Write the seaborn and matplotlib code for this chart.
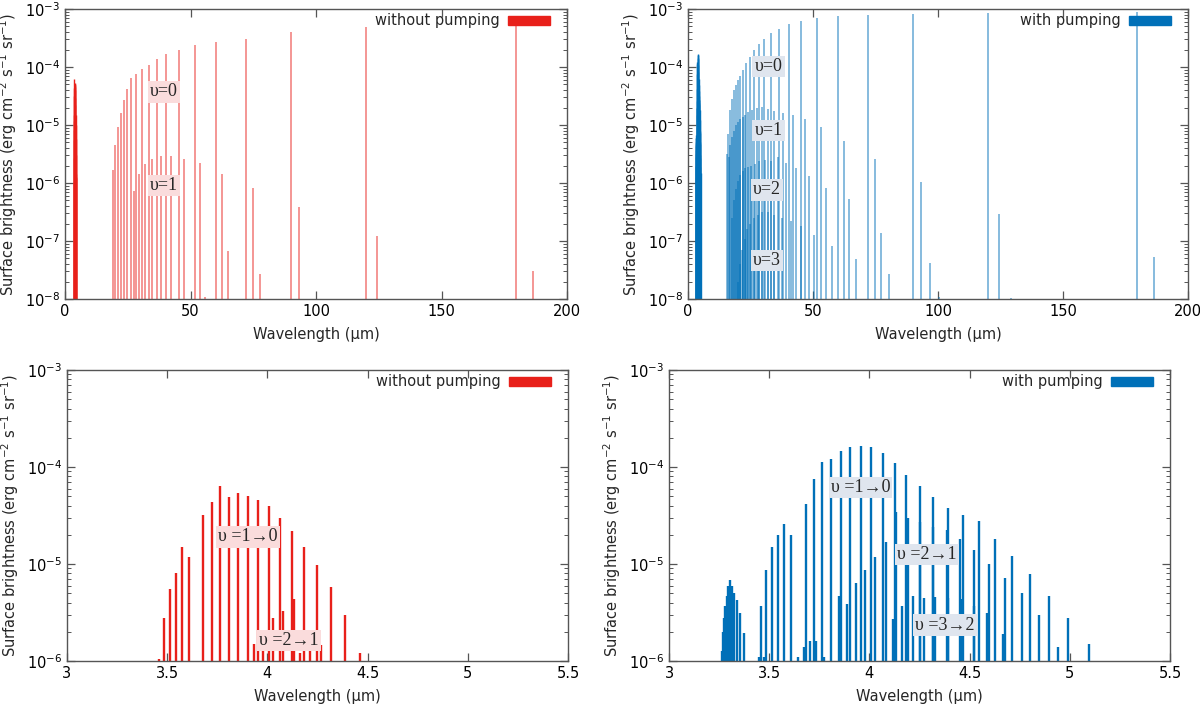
import numpy as np
import pandas as pd
import matplotlib
matplotlib.use('Agg')
import matplotlib.pyplot as plt
import seaborn as sns
from matplotlib.patches import Patch
from matplotlib.ticker import LogLocator, FuncFormatter, NullFormatter

# pure rotational lines, without pumping (um, erg cm-2 s-1 sr-1)
tl_v0_w = [19.3, 20.1, 21.0, 22.1, 23.3, 24.7, 26.4, 28.4, 30.6, 33.3, 36.5, 40.4,
           45.3, 51.7, 60.2, 72.1, 89.9, 119.9, 179.7]
tl_v0_h = [1.7e-6, 4.6e-6, 9.1e-6, 1.6e-5, 2.7e-5, 4.2e-5, 6.5e-5, 7.6e-5, 9.1e-5,
           1.1e-4, 1.35e-4, 1.7e-4, 2.0e-4, 2.4e-4, 2.75e-4, 3.0e-4, 4.0e-4, 4.8e-4, 6.3e-4]
tl_v1_w = [27.5, 29.6, 32.0, 34.6, 38.1, 42.2, 47.2, 53.7, 62.7, 74.9, 93.3, 124.3, 186.5]
tl_v1_h = [7.2e-7, 1.45e-6, 2.1e-6, 2.6e-6, 2.9e-6, 2.9e-6, 2.6e-6, 2.2e-6, 1.45e-6,
           8.1e-7, 3.9e-7, 1.2e-7, 3.0e-8]
tl_v2_w = [55.7, 64.8, 77.7]
tl_v2_h = [1.1e-8, 6.8e-8, 2.7e-8]

# pure rotational lines, with pumping
tr_v0_w = [15.6, 16.1, 16.9, 17.6, 18.4, 19.3, 20.1, 21.0, 22.1, 23.3, 24.7, 26.4, 28.4,
           30.6, 33.3, 36.5, 40.4, 45.3, 51.7, 60.2, 72.1, 89.9, 119.9, 179.7]
tr_v0_h = [3.2e-6, 7.1e-6, 1.8e-5, 2.8e-5, 4.0e-5, 4.8e-5, 5.9e-5, 6.9e-5, 8.7e-5, 1.17e-4,
           1.5e-4, 2.0e-4, 2.5e-4, 3.0e-4, 3.8e-4, 4.6e-4, 5.5e-4, 6.3e-4, 7.0e-4, 7.6e-4,
           7.9e-4, 8.1e-4, 8.5e-4, 8.9e-4]
tr_v1_w = [16.3, 17.0, 17.6, 18.4, 19.2, 20.1, 21.0, 21.9, 23.0, 24.2, 25.7, 27.5, 29.6,
           32.0, 34.6, 38.0, 42.1, 47.0, 53.4, 62.3, 74.7, 93.2, 124.3, 186.6]
tr_v1_h = [2.8e-6, 4.5e-6, 6.3e-6, 7.9e-6, 1.0e-5, 1.12e-5, 1.26e-5, 1.4e-5, 1.5e-5,
           1.65e-5, 1.8e-5, 2.0e-5, 2.05e-5, 1.9e-5, 1.75e-5, 1.6e-5, 1.5e-5, 1.25e-5,
           9.1e-6, 5.2e-6, 2.6e-6, 1.05e-6, 2.9e-7, 5.4e-8]
tr_v2_w = [17.6, 18.3, 19.1, 20.0, 20.9, 21.9, 22.8, 23.9, 25.2, 26.7, 28.6, 30.8, 33.3,
           36.0, 39.2, 43.4, 48.6, 55.4, 64.6, 77.4, 96.8, 129.1]
tr_v2_h = [2.5e-7, 5.0e-7, 7.9e-7, 1.1e-6, 1.4e-6, 1.6e-6, 1.8e-6, 1.9e-6, 2.0e-6, 2.1e-6,
           2.4e-6, 2.5e-6, 2.4e-6, 2.8e-6, 2.2e-6, 1.8e-6, 1.3e-6, 8.1e-7, 5.2e-7, 1.35e-7,
           4.1e-8, 1.05e-8]
tr_v3_w = [19.9, 20.8, 21.7, 22.7, 23.8, 25.0, 26.3, 27.9, 29.7, 31.9, 34.5, 37.5, 41.4,
           45.2, 50.3, 57.7, 67.1, 80.5, 100.3]
tr_v3_h = [2.0e-8, 4.0e-8, 7.1e-8, 1.1e-7, 1.6e-7, 2.0e-7, 2.5e-7, 2.8e-7, 3.2e-7, 3.2e-7,
           2.8e-7, 2.5e-7, 2.2e-7, 1.8e-7, 1.26e-7, 8.1e-8, 4.8e-8, 2.75e-8, 1.1e-8]

# ro-vibrational band, without pumping
bl_10_w = [3.461, 3.486, 3.514, 3.543, 3.574, 3.608, 3.681, 3.722, 3.764, 3.808, 3.854,
           3.902, 3.952, 4.008, 4.063, 4.125, 4.184, 4.250, 4.317, 4.388, 4.464]
bl_10_h = [1.05e-6, 2.75e-6, 5.5e-6, 8.1e-6, 1.48e-5, 1.17e-5, 3.2e-5, 4.4e-5, 6.3e-5,
           4.9e-5, 5.4e-5, 5.0e-5, 4.6e-5, 4.0e-5, 2.95e-5, 2.2e-5, 1.5e-5, 9.8e-6,
           5.75e-6, 3.0e-6, 1.2e-6]
bl_21_w = [3.933, 3.979, 4.027, 4.079, 4.132, 4.165, 4.213, 4.270]
bl_21_h = [1.5e-6, 2.1e-6, 2.75e-6, 3.3e-6, 4.4e-6, 1.2e-6, 1.26e-6, 1.45e-6]

# ro-vibrational band, with pumping
br_10_w = [3.461, 3.486, 3.514, 3.545, 3.576, 3.610, 3.683, 3.722, 3.764, 3.808, 3.856,
           3.904, 3.956, 4.010, 4.067, 4.127, 4.184, 4.250, 4.319, 4.390, 4.467, 4.546,
           4.627, 4.712, 4.800, 4.896, 4.992, 5.098]
br_10_h = [3.7e-6, 8.7e-6, 1.48e-5, 2.0e-5, 2.6e-5, 2.0e-5, 4.2e-5, 7.6e-5, 1.12e-4,
           1.2e-4, 1.45e-4, 1.6e-4, 1.65e-4, 1.6e-4, 1.4e-4, 1.1e-4, 8.3e-5, 6.3e-5,
           4.9e-5, 3.8e-5, 3.2e-5, 2.75e-5, 1.8e-5, 1.2e-5, 7.8e-6, 4.7e-6, 2.75e-6, 1.48e-6]
br_21_w = [3.451, 3.474, 3.643, 3.672, 3.703, 3.735, 3.772, 3.850, 3.887, 3.933, 3.977,
           4.029, 4.081, 4.134, 4.192, 4.253, 4.319, 4.388, 4.453, 4.524, 4.595, 4.676,
           4.760, 4.845, 4.939]
br_21_h = [1.1e-6, 1.1e-6, 1.1e-6, 1.4e-6, 1.6e-6, 1.6e-6, 1.1e-6, 4.7e-6, 3.9e-6, 6.3e-6,
           8.7e-6, 1.17e-5, 1.7e-5, 3.4e-5, 3.0e-5, 2.7e-5, 2.4e-5, 2.25e-5, 1.8e-5,
           1.4e-5, 1.0e-5, 7.2e-6, 5.0e-6, 3.0e-6, 1.4e-6]
br_32_w = [4.119, 4.165, 4.217, 4.271, 4.328, 4.390, 4.455, 4.522, 4.589, 4.666]
br_32_h = [2.7e-6, 3.7e-6, 4.7e-6, 4.5e-6, 4.6e-6, 4.5e-6, 4.4e-6, 3.7e-6, 3.1e-6, 1.9e-6]
br_band_w = [3.265, 3.269, 3.274, 3.280, 3.288, 3.296, 3.303, 3.313, 3.324, 3.340, 3.355, 3.374]
br_band_h = [1.26e-6, 2.0e-6, 2.8e-6, 3.7e-6, 4.7e-6, 5.9e-6, 6.8e-6, 5.9e-6, 5.0e-6,
             4.3e-6, 3.1e-6, 1.95e-6]

RED = '#e8201a'
BLUE = '#0070b8'
PINK_BOX = '#fadcdc'
BLUE_BOX = '#dfe5ee'

sns.set_theme(style='ticks')
plt.rcParams['font.family'] = ['DejaVu Sans']
plt.rcParams['axes.edgecolor'] = '#555555'
plt.rcParams['axes.linewidth'] = 1.0
plt.rcParams['xtick.direction'] = 'in'
plt.rcParams['ytick.direction'] = 'in'
plt.rcParams['xtick.color'] = '#555555'
plt.rcParams['ytick.color'] = '#555555'
plt.rcParams['xtick.labelcolor'] = 'black'
plt.rcParams['ytick.labelcolor'] = 'black'

SERIF = ['Liberation Serif', 'DejaVu Serif']


def lines(ax, w, h, color, lw, alpha=1.0):
    df = pd.DataFrame({'w': w, 'h': h})
    ax.vlines(df['w'], 1e-9, df['h'], colors=color, lw=lw, alpha=alpha, zorder=2)


def style(ax, xlim, xticks, ylim, label, patch_color):
    ax.set_yscale('log')
    ax.set_xlim(*xlim)
    ax.set_ylim(*ylim)
    ax.set_xticks(xticks)
    ax.xaxis.set_major_formatter(FuncFormatter(lambda v, p: f'{v:g}'))
    ax.yaxis.set_major_locator(LogLocator(base=10, numticks=12))
    ax.yaxis.set_minor_locator(LogLocator(base=10, subs=np.arange(2, 10), numticks=12))
    ax.yaxis.set_minor_formatter(NullFormatter())
    ax.tick_params(which='both', top=True, right=True, labelsize=10.5)
    ax.tick_params(which='major', length=6, width=0.9)
    ax.tick_params(which='minor', length=3, width=0.7)
    ax.set_xlabel('Wavelength (µm)', fontsize=10.5, labelpad=6)
    ax.set_ylabel('Surface brightness (erg cm$^{-2}$ s$^{-1}$ sr$^{-1}$)', fontsize=10.5)
    leg = ax.legend(handles=[Patch(facecolor=patch_color, edgecolor=patch_color, label=label)],
                    loc='upper right', bbox_to_anchor=(0.967, 0.985), frameon=False,
                    markerfirst=False, handlelength=2.9, handleheight=0.6,
                    handletextpad=0.6, borderpad=0, borderaxespad=0, fontsize=10.5)
    leg.set_zorder(5)
    for s in ax.spines.values():
        s.set_visible(True)


def tag(ax, x, y, text, box):
    ax.text(x, y, text, ha='center', va='center', fontsize=13, family=SERIF, zorder=4,
            bbox=dict(boxstyle='square,pad=0.12', fc=box, ec='none'))


fig = plt.figure(figsize=(12, 7.08), dpi=100)
ax_tl = fig.add_axes([0.0542, 0.5777, 0.4183, 0.4096])
ax_tr = fig.add_axes([0.5733, 0.5777, 0.4167, 0.4096])
ax_bl = fig.add_axes([0.0558, 0.0664, 0.4175, 0.411])
ax_br = fig.add_axes([0.5575, 0.0664, 0.4175, 0.411])

# top left
lines(ax_tl, tl_v0_w, tl_v0_h, RED, 1.2, 0.55)
lines(ax_tl, tl_v1_w, tl_v1_h, RED, 1.2, 0.55)
lines(ax_tl, tl_v2_w, tl_v2_h, RED, 1.2, 0.55)
lines(ax_tl, bl_10_w, bl_10_h, RED, 1.0)
lines(ax_tl, bl_21_w, bl_21_h, RED, 1.0)
style(ax_tl, (0, 200), [0, 50, 100, 150, 200], (1e-8, 1e-3), 'without pumping', RED)
tag(ax_tl, 39.4, 10 ** -4.43, 'υ=0', PINK_BOX)
tag(ax_tl, 39.4, 10 ** -6.04, 'υ=1', PINK_BOX)

# top right
lines(ax_tr, tr_v0_w, tr_v0_h, BLUE, 1.1, 0.6)
lines(ax_tr, tr_v1_w, tr_v1_h, BLUE, 1.1, 0.6)
lines(ax_tr, tr_v2_w, tr_v2_h, BLUE, 1.1, 0.6)
lines(ax_tr, tr_v3_w, tr_v3_h, BLUE, 1.1, 0.6)
lines(ax_tr, br_10_w, br_10_h, BLUE, 1.0)
lines(ax_tr, br_21_w, br_21_h, BLUE, 1.0)
lines(ax_tr, br_32_w, br_32_h, BLUE, 1.0)
lines(ax_tr, br_band_w, br_band_h, BLUE, 1.0)
style(ax_tr, (0, 200), [0, 50, 100, 150, 200], (1e-8, 1e-3), 'with pumping', BLUE)
tag(ax_tr, 32.2, 10 ** -3.99, 'υ=0', BLUE_BOX)
tag(ax_tr, 32.2, 10 ** -5.10, 'υ=1', BLUE_BOX)
tag(ax_tr, 31.5, 10 ** -6.12, 'υ=2', BLUE_BOX)
tag(ax_tr, 31.5, 10 ** -7.34, 'υ=3', BLUE_BOX)

# bottom left
lines(ax_bl, bl_10_w, bl_10_h, RED, 1.7)
lines(ax_bl, bl_21_w, bl_21_h, RED, 1.7)
style(ax_bl, (3, 5.5), [3, 3.5, 4, 4.5, 5, 5.5], (1e-6, 1e-3), 'without pumping', RED)
tag(ax_bl, 3.902, 10 ** -4.72, 'υ =1→0', PINK_BOX)
tag(ax_bl, 4.109, 10 ** -5.79, 'υ =2→1', PINK_BOX)

# bottom right
lines(ax_br, br_band_w, br_band_h, BLUE, 1.7)
lines(ax_br, br_10_w, br_10_h, BLUE, 1.7)
lines(ax_br, br_21_w, br_21_h, BLUE, 1.7)
lines(ax_br, br_32_w, br_32_h, BLUE, 1.7)
style(ax_br, (3, 5.5), [3, 3.5, 4, 4.5, 5, 5.5], (1e-6, 1e-3), 'with pumping', BLUE)
tag(ax_br, 3.956, 10 ** -4.21, 'υ =1→0', BLUE_BOX)
tag(ax_br, 4.286, 10 ** -4.90, 'υ =2→1', BLUE_BOX)
tag(ax_br, 4.376, 10 ** -5.63, 'υ =3→2', BLUE_BOX)

fig.savefig('out.png', dpi=100)
